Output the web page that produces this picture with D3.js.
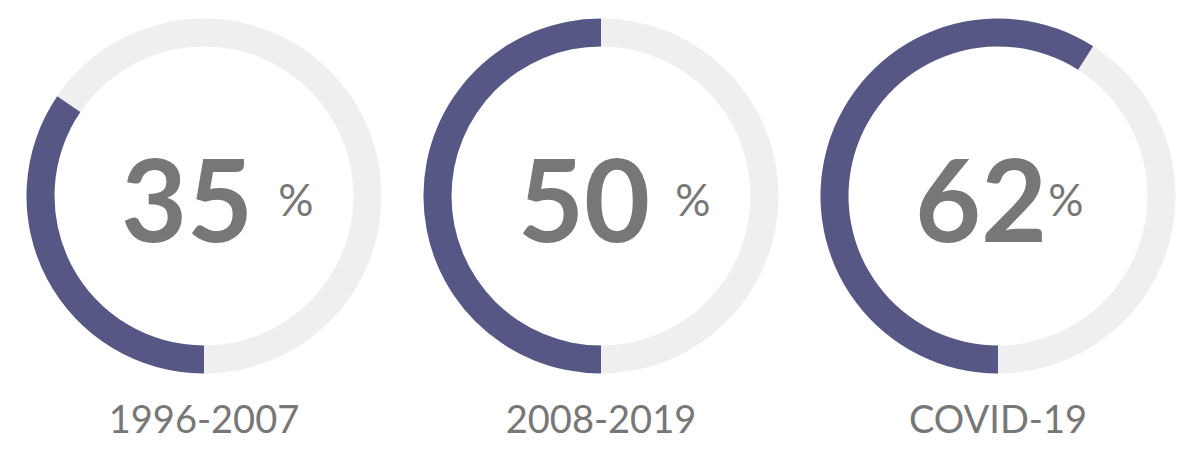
<!DOCTYPE html>
<html>
<head>
<meta charset="utf-8">
<script src="https://cdn.jsdelivr.net/npm/d3@7"></script>
<style>
  html, body { margin: 0; padding: 0; background: #ffffff; }
  svg { display: block; }
</style>
</head>
<body>
<svg id="chart" width="1200" height="472"></svg>
<script>
// ---- data ----
const categories = ["1996-2007", "2008-2019", "COVID-19"];
const values = [35, 50, 62];              // printed percentages
const arcShares = [34.5, 50, 59];         // share of ring filled, as drawn
const percentSuffix = [" %", " %", "%"];  // spacing of the % sign as printed

// ---- layout ----
const svg = d3.select("#chart");
const x = d3.scalePoint().domain(categories).range([204, 998]);
const cy = 196;
const outerR = 177.5, thickness = 28;
const angle = d3.scaleLinear().domain([0, 100]).range([0, 2 * Math.PI]);
const start = Math.PI; // bottom, moving clockwise

const arc = d3.arc().innerRadius(outerR - thickness).outerRadius(outerR);

const g = svg.selectAll("g.ring").data(categories).join("g")
  .attr("class", "ring")
  .attr("transform", d => `translate(${x(d)},${cy})`);

g.append("path")
  .attr("fill", "#efefef")
  .attr("d", () => arc({ startAngle: 0, endAngle: 2 * Math.PI }));

g.append("path")
  .attr("fill", "#575786")
  .attr("d", (d, i) => arc({ startAngle: start, endAngle: start + angle(arcShares[i]) }));

g.each(function(d, i) {
  const el = d3.select(this);
  const num = el.append("text")
    .attr("x", -17)
    .attr("y", 46)
    .attr("text-anchor", "middle")
    .attr("font-family", "Lato, 'Open Sans', sans-serif")
    .attr("font-weight", 700)
    .attr("font-size", 114)
    .attr("fill", "#777777")
    .text(values[i]);
  const w = num.node().getComputedTextLength();
  const hasSpace = percentSuffix[i].startsWith(" ");
  el.append("text")
    .attr("x", -17 + w / 2 + (hasSpace ? 25 : 1))
    .attr("y", 20)
    .attr("font-family", "Lato, 'Open Sans', sans-serif")
    .attr("font-weight", 400)
    .attr("font-size", 44)
    .attr("fill", "#777777")
    .text("%");
  el.append("text")
    .attr("x", 0)
    .attr("y", 237)
    .attr("text-anchor", "middle")
    .attr("font-family", "Lato, 'Open Sans', sans-serif")
    .attr("font-weight", 400)
    .attr("font-size", 38)
    .attr("fill", "#777777")
    .text(d);
});
</script>
</body>
</html>
